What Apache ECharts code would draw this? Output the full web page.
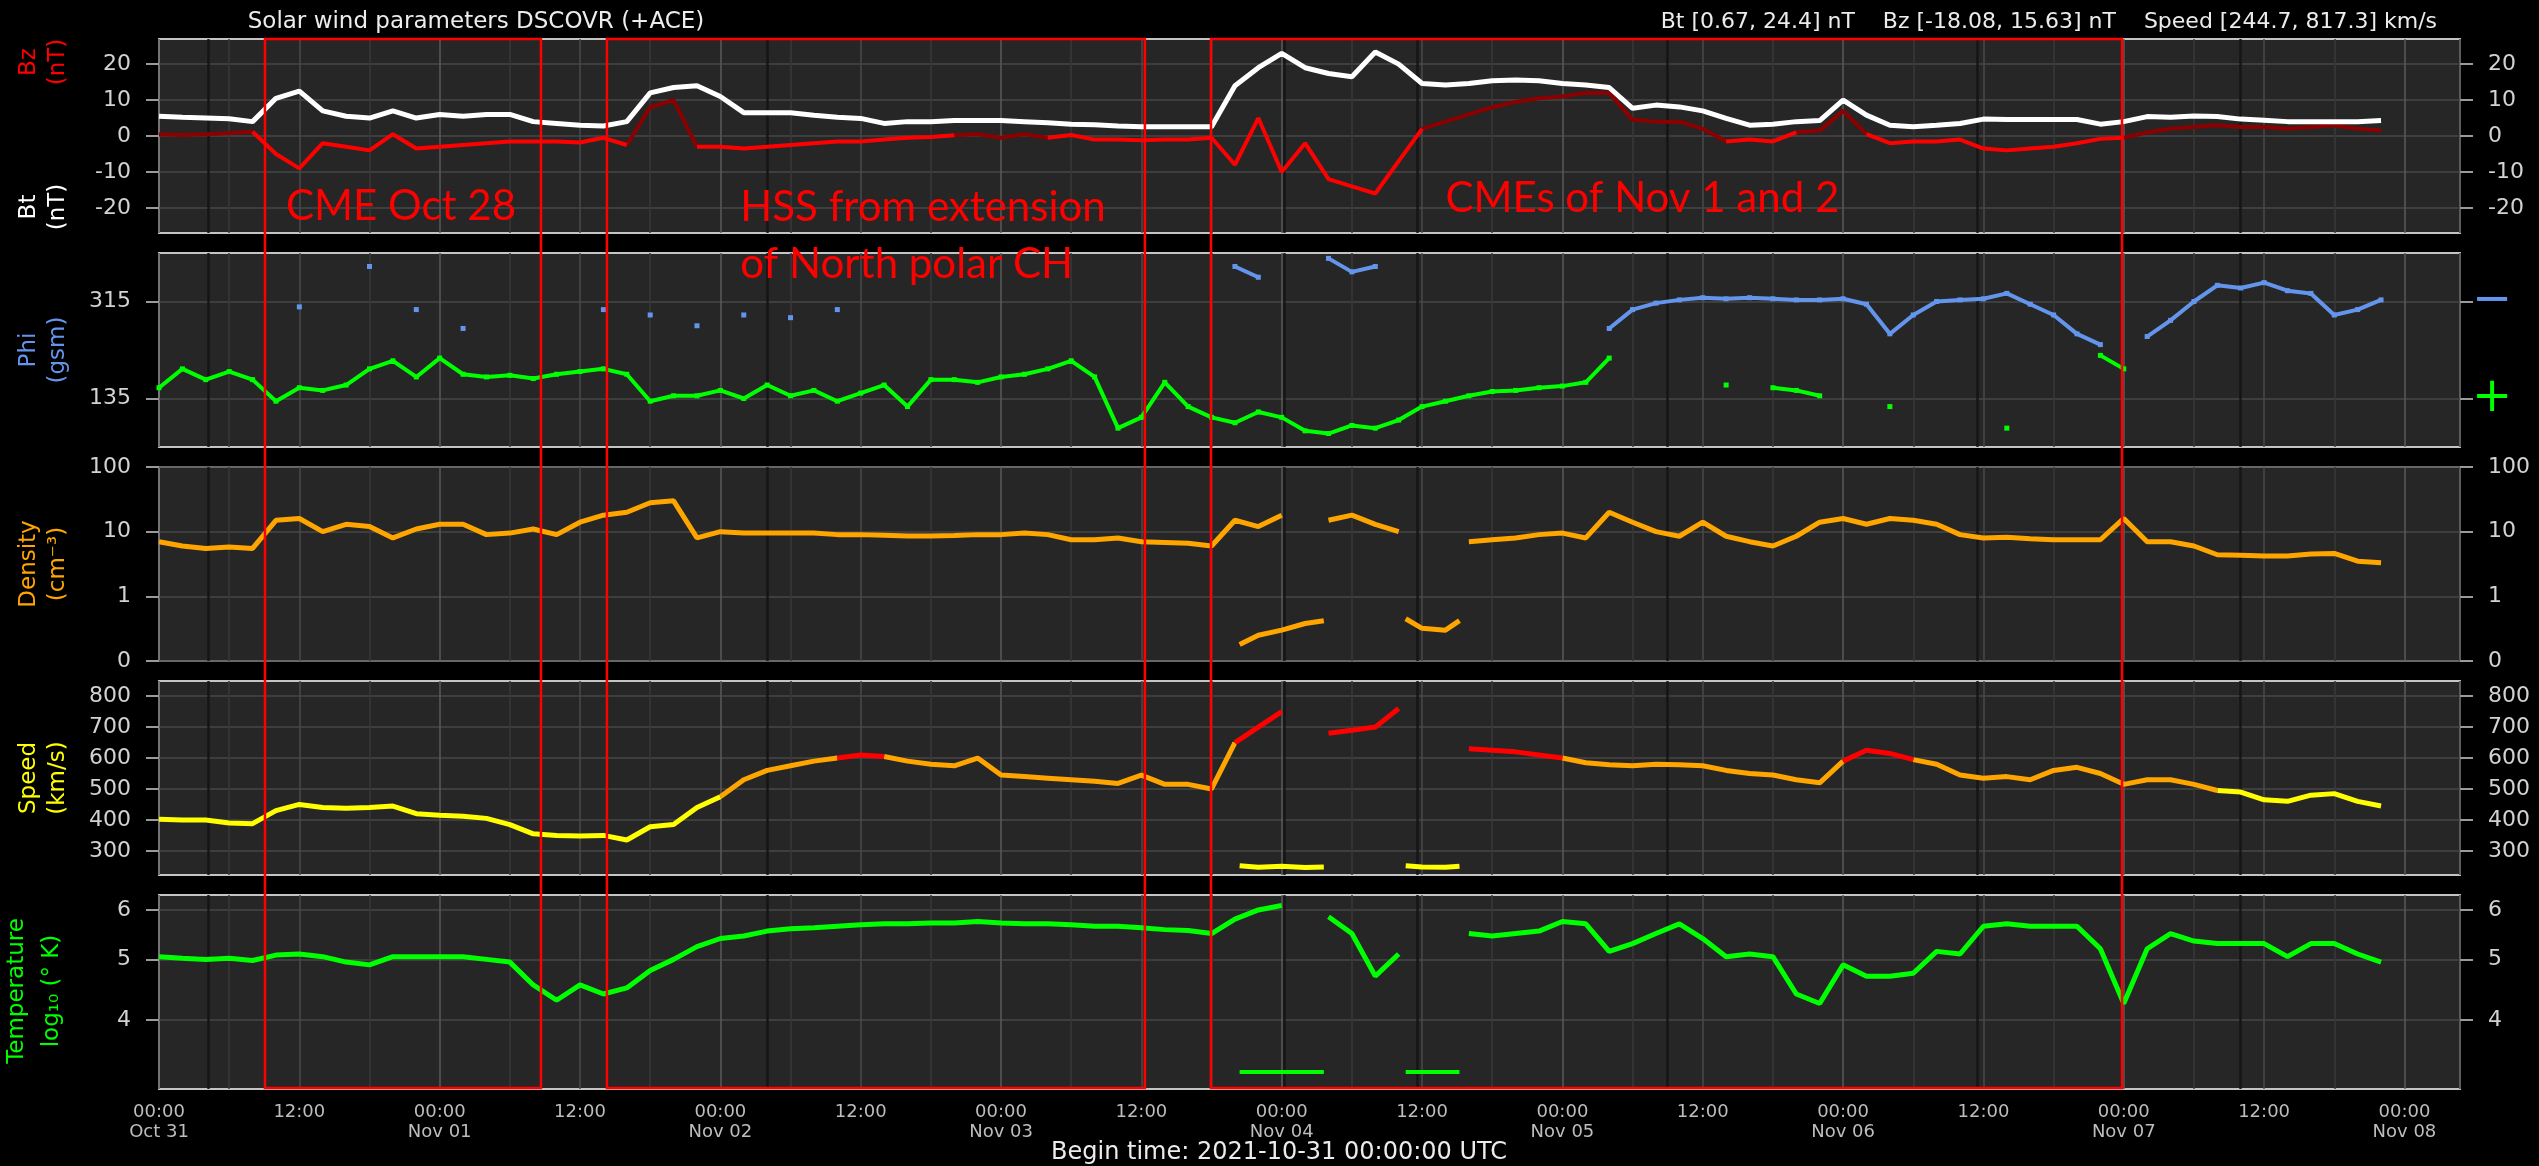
<!DOCTYPE html>
<html>
<head>
<meta charset="utf-8">
<script src="https://cdn.jsdelivr.net/npm/echarts@6/dist/echarts.min.js"></script>
<style>
html, body { margin: 0; padding: 0; background: #000; }
#solarChart { width: 2539px; height: 1166px; }
</style>
</head>
<body>
<div id="solarChart"></div>
<script>
// samples every 2 hours starting 2021-10-31 00:00 UTC, null = no data
const stepHours = 2
const dayLabels = ['Oct 31', 'Nov 01', 'Nov 02', 'Nov 03', 'Nov 04', 'Nov 05', 'Nov 06', 'Nov 07', 'Nov 08']

const bt = [5.5, 5.2, 5.0, 4.8, 4.0, 10.5, 12.5, 7, 5.5, 5, 7, 5,
  6, 5.5, 6, 6, 4, 3.5, 3, 2.8, 4, 12, 13.5, 14,
  11, 6.5, 6.5, 6.5, 5.8, 5.2, 4.9, 3.5, 4, 4, 4.3, 4.3,
  4.3, 4, 3.7, 3.3, 3.1, 2.8, 2.6, 2.6, 2.6, 2.6, 14, 19,
  23, 19, 17.4, 16.5, 23.4, 20, 14.6, 14.2, 14.6, 15.4, 15.6, 15.4,
  14.6, 14.2, 13.5, 7.7, 8.6, 8.1, 7, 4.9, 3, 3.3, 4, 4.3,
  10, 5.8, 3, 2.6, 3, 3.5, 4.7, 4.6, 4.6, 4.6, 4.6, 3.3,
  4, 5.4, 5.2, 5.6, 5.4, 4.7, 4.4, 4, 4, 4, 4, 4.3]

const bz = [0.5, 0.3, 0.5, 0.8, 1.2, -5, -9, -2, -3, -4, 0.5, -3.5,
  -3, -2.5, -2, -1.5, -1.5, -1.5, -1.8, -0.5, -2.5, 8, 10, -3,
  -3, -3.5, -3, -2.5, -2, -1.5, -1.5, -1, -0.5, -0.3, 0.2, 0.5,
  -0.5, 0.5, -0.5, 0.3, -1, -1, -1.2, -1, -1, -0.5, -8, 5,
  -10, -2, -12, -14, -16, -7, 2, 4, 6, 8, 9.5, 10.5,
  11, 12, 12, 4.5, 4, 4, 2, -1.5, -1, -1.5, 1, 1.5,
  7, 0.5, -2, -1.5, -1.5, -1, -3.5, -4, -3.5, -3, -2, -0.8,
  -0.5, 1, 2, 2.5, 3, 2.5, 2.5, 2, 2.5, 3, 2, 1.5]

// Phi toward the sun (+, green) and away (-, blue)
const phiPlus = [155, 190, 170, 185, 170, 130, 155, 150, 160, 190, 205, 175,
  210, 180, 175, 178, 172, 180, 185, 190, 180, 130, 140, 140,
  150, 135, 160, 140, 150, 130, 145, 160, 120, 170, 170, 165,
  175, 180, 190, 205, 175, 80, 100, 165, 120, 100, 90, 110,
  100, 75, 70, 85, 80, 95, 120, 130, 140, 148, 150, 155,
  158, 165, 210, null, null, null, null, 160, null, 155, 150, 140,
  null, null, 120, null, null, null, null, 80, null, null, null, 215,
  190, null, null, null, null, null, null, null, null, null, null, null]
const phiMinus = [null, null, null, null, null, null, 305, null, null, 380, null, 300,
  null, 265, null, null, null, null, null, 300, null, 290, null, 270,
  null, 290, null, 285, null, 300, null, null, null, null, null, null,
  null, null, null, null, null, null, null, null, null, null, 380, 360,
  null, null, 395, 370, 380, null, null, null, null, null, null, null,
  null, null, 265, 300, 312, 318, 322, 320, 322, 320, 318, 318,
  320, 310, 255, 290, 315, 318, 320, 330, 310, 290, 255, 235,
  null, 250, 280, 315, 345, 340, 350, 335, 330, 290, 300, 318]

const density = [7, 6, 5.5, 5.8, 5.5, 15, 16, 10, 13, 12, 8, 11,
  13, 13, 9, 9.5, 11, 9, 14, 18, 20, 28, 30, 8,
  10, 9.5, 9.5, 9.5, 9.5, 9, 9, 8.8, 8.6, 8.6, 8.7, 9,
  9, 9.5, 9, 7.5, 7.5, 8, 7, 6.8, 6.6, 6, 15, 12,
  18, null, 15, 18, 13, 10, null, null, 7, 7.5, 8, 9,
  9.5, 8, 20, 14, 10, 8.5, 14, 8.5, 7, 6, 8.5, 14,
  16, 13, 16, 15, 13, 9, 8, 8.2, 7.8, 7.5, 7.5, 7.5,
  16, 7, 7, 6, 4.4, 4.3, 4.2, 4.2, 4.5, 4.6, 3.5, 3.3]

const speed = [402, 400, 400, 390, 388, 430, 450, 440, 438, 440, 445, 420,
  415, 412, 405, 385, 355, 350, 348, 350, 335, 378, 385, 440,
  475, 530, 560, 575, 590, 600, 610, 605, 590, 580, 575, 600,
  545, 540, 535, 530, 525, 518, 545, 515, 515, 500, 650, 700,
  750, null, 680, 690, 700, 760, null, null, 630, 625, 620, 610,
  600, 585, 578, 575, 580, 578, 575, 560, 550, 545, 530, 520,
  590, 625, 615, 595, 580, 545, 535, 540, 530, 560, 570, 550,
  515, 530, 530, 515, 495, 490, 465, 460, 480, 485, 460, 445]

// log10 of temperature in K
const temperature = [5.05, 5.02, 5.0, 5.02, 4.98, 5.08, 5.1, 5.05, 4.95, 4.9, 5.05, 5.05,
  5.05, 5.05, 5.0, 4.95, 4.55, 4.3, 4.55, 4.4, 4.5, 4.8, 5.0, 5.24,
  5.4, 5.45, 5.55, 5.6, 5.62, 5.65, 5.68, 5.7, 5.7, 5.72, 5.72, 5.75,
  5.72, 5.7, 5.7, 5.68, 5.65, 5.65, 5.62, 5.58, 5.56, 5.5, 5.8, 6.0,
  6.1, null, 5.85, 5.5, 4.7, 5.1, null, null, 5.5, 5.45, 5.5, 5.55,
  5.75, 5.7, 5.15, 5.3, 5.5, 5.7, 5.4, 5.05, 5.1, 5.05, 4.4, 4.25,
  4.9, 4.7, 4.7, 4.75, 5.15, 5.1, 5.65, 5.7, 5.65, 5.65, 5.65, 5.2,
  4.25, 5.2, 5.5, 5.35, 5.3, 5.3, 5.3, 5.05, 5.3, 5.3, 5.1, 4.95]

// second (low) data branch inside the Nov 4 CME, hours from begin time
const lowHours = [92.4, 94, 96, 98, 99.6, null, 106.6, 108, 110, 111.2]
const densityLow = [0.18, 0.25, 0.3, 0.38, 0.42, null, 0.45, 0.32, 0.3, 0.42]
const speedLow = [252, 247, 250, 246, 248, null, 252, 248, 247, 250]
const temperatureLow = [3.3, 3.3, 3.3, 3.3, 3.3, null, 3.3, 3.3, 3.3, 3.3]

// dark data-gap markers, hours from begin time
const gapHours = [4.2, 52, 96.2, 107.6, 129, 155.5, 178]

const bzTicks = [-20, -10, 0, 10, 20]
const phiTicks = [135, 315]
const speedTicks = [300, 400, 500, 600, 700, 800]
const tempTicks = [4, 5, 6]

// hand drawn event boxes, in hours from begin time
const eventSpans = [[9.06, 32.66], [38.3, 84.3], [89.95, 167.85]]
const eventNotes = [
  { text: 'CME Oct 28', hour: 10.86, y: 206 },
  { text: 'HSS from extension', hour: 49.7, y: 207 },
  { text: 'of North polar CH', hour: 49.7, y: 264 },
  { text: 'CMEs of Nov 1 and 2', hour: 110.0, y: 198 }
]

const toPairs = arr => arr.map((v, i) => [i * stepHours, v === null ? '-' : v])
const lowPairs = vals => lowHours.map((h, i) => h === null ? [lowHours[i - 1], '-'] : [h, vals[i]])

// cut a series into runs by colour class of each segment, gaps ('-') between runs
function splitRuns(pairs, classOf, n) {
  const runs = Array.from({ length: n }, () => [])
  for (let i = 0; i + 1 < pairs.length; i++) {
    const a = pairs[i], b = pairs[i + 1]
    if (a[1] === '-' || b[1] === '-') continue
    const out = runs[classOf((a[1] + b[1]) / 2)]
    const last = out[out.length - 1]
    if (!last || last[0] !== a[0]) {
      if (last) out.push([a[0], '-'])
      out.push(a)
    }
    out.push(b)
  }
  return runs
}

const bzRuns = splitRuns(toPairs(bz), v => v < 0 ? 0 : 1, 2)
const speedRuns = splitRuns(toPairs(speed), v => v < 500 ? 0 : (v < 600 ? 1 : 2), 3)

const chart = echarts.init(document.getElementById('solarChart'))

const gridTops = [39, 253, 467, 681, 895]
const grids = gridTops.map(t => ({
  left: 159, right: 79, top: t, height: 194,
  show: true, backgroundColor: '#262626', borderColor: '#c4c4c4', borderWidth: 2
}))

const xAxes = gridTops.map((t, k) => ({
  type: 'value', gridIndex: k, min: 0, max: 196.75, interval: 6,
  axisLine: { show: false },
  axisTick: { show: false },
  splitLine: { show: true, lineStyle: { color: ['#5a5a5a', '#383838', '#4a4a4a', '#383838'], width: 1.5 } },
  axisLabel: {
    show: k === 4, color: '#bdbdbd', fontSize: 18, fontFamily: 'DejaVu Sans',
    margin: 13, lineHeight: 20,
    formatter: v => {
      if (v % 12 !== 0) return ''
      return v % 24 === 0 ? '00:00\n' + dayLabels[v / 24] : '12:00'
    }
  }
}))

function yPair(k, extra) {
  return ['left', 'right'].map(pos => {
    const ax = {
      gridIndex: k, position: pos, type: 'value',
      axisLine: { show: false },
      axisTick: { show: true, length: 13, lineStyle: { color: '#9a9a9a', width: 2 } },
      axisLabel: { color: '#d2d2d2', fontSize: 22, fontFamily: 'DejaVu Sans', margin: 28 },
      splitLine: { show: pos === 'left', lineStyle: { color: '#474747', width: 1.5 } }
    }
    const e = extra(pos)
    ax.axisTick = Object.assign(ax.axisTick, e.axisTick || {})
    ax.axisLabel = Object.assign(ax.axisLabel, e.axisLabel || {})
    delete e.axisTick
    delete e.axisLabel
    return Object.assign(ax, e)
  })
}

const yAxes = [].concat(
  yPair(0, () => ({ min: -27, max: 27, axisTick: { customValues: bzTicks }, axisLabel: { customValues: bzTicks } })),
  yPair(1, pos => ({
    min: 45, max: 405,
    axisTick: { customValues: phiTicks },
    axisLabel: pos === 'left' ? { customValues: phiTicks } : {
      customValues: phiTicks, margin: 12,
      formatter: v => v === 315 ? '{m|\u2212}' : '{p|+}',
      rich: {
        m: { color: '#6495ed', fontSize: 48, fontFamily: 'DejaVu Sans' },
        p: { color: '#00ff00', fontSize: 48, fontFamily: 'DejaVu Sans' }
      }
    }
  })),
  yPair(2, () => ({
    type: 'log', logBase: 10, min: 0.1, max: 100,
    axisLabel: { formatter: v => v < 0.5 ? '0' : String(Math.round(v)) }
  })),
  yPair(3, () => ({ min: 222, max: 849, axisTick: { customValues: speedTicks }, axisLabel: { customValues: speedTicks } })),
  yPair(4, () => ({ type: 'log', min: 3.1, max: 6.34, axisTick: { customValues: tempTicks }, axisLabel: { customValues: tempTicks } }))
)

const gapMarks = {
  silent: true, symbol: 'none', z: 1, animation: false,
  label: { show: false },
  lineStyle: { color: '#141414', width: 2.5, type: 'solid', opacity: 0.9 },
  data: gapHours.map(h => ({ xAxis: h }))
}

const line = (name, xi, yi, data, color, width, extra) => Object.assign({
  type: 'line', name: name, xAxisIndex: xi, yAxisIndex: yi, data: data,
  symbol: 'none', showSymbol: false, connectNulls: false,
  lineStyle: { width: width, color: color }
}, extra || {})

const dots = color => ({ symbol: 'rect', symbolSize: 5, showSymbol: true, itemStyle: { color: color, borderWidth: 0 } })

const option = {
  backgroundColor: '#000',
  animation: false,
  grid: grids,
  xAxis: xAxes,
  yAxis: yAxes,
  series: [
    line('Bz+', 0, 0, bzRuns[1], '#8b0000', 4, { markLine: gapMarks }),
    line('Bz-', 0, 0, bzRuns[0], '#ff0000', 4),
    line('Bt', 0, 0, toPairs(bt), '#ffffff', 5),
    line('Phi+', 1, 2, toPairs(phiPlus), '#00ff00', 4, Object.assign({ markLine: gapMarks }, dots('#00ff00'))),
    line('Phi-', 1, 2, toPairs(phiMinus), '#6495ed', 4, dots('#6495ed')),
    line('Density', 2, 4, toPairs(density), '#ffa500', 5, { markLine: gapMarks }),
    line('Density low', 2, 4, lowPairs(densityLow), '#ffa500', 5),
    line('Speed low', 3, 6, speedRuns[0], '#ffff00', 5, { markLine: gapMarks }),
    line('Speed mid', 3, 6, speedRuns[1], '#ffa500', 5),
    line('Speed high', 3, 6, speedRuns[2], '#ff0000', 5),
    line('Speed low branch', 3, 6, lowPairs(speedLow), '#ffff00', 5),
    line('Temperature', 4, 8, toPairs(temperature), '#00ff00', 5, { markLine: gapMarks }),
    line('Temperature low', 4, 8, lowPairs(temperatureLow), '#00ff00', 4)
  ]
}
chart.setOption(option)

// texts and annotation boxes, placed after the axes exist
const font = 'DejaVu Sans'
const vText = (text, x, y, color, lh) => ({
  type: 'text', x: x, y: y, rotation: Math.PI / 2, z: 50,
  style: { text: text, fill: color, fontSize: 23, fontFamily: font, align: 'center', verticalAlign: 'middle', lineHeight: lh }
})
const hText = (text, x, y, align, size) => ({
  type: 'text', x: x, y: y, z: 50,
  style: { text: text, fill: '#ececec', fontSize: size, fontFamily: font, align: align, verticalAlign: 'middle' }
})

const graphics = [
  hText('Solar wind parameters DSCOVR (+ACE)', 476, 22, 'center', 23),
  hText('Bt [0.67, 24.4] nT    Bz [-18.08, 15.63] nT    Speed [244.7, 817.3] km/s', 2437, 22, 'right', 22),
  hText('Begin time: 2021-10-31 00:00:00 UTC', 1279, 1153, 'center', 24),
  vText('Bz\n(nT)', 44, 62, '#ff0000', 29),
  vText('Bt\n(nT)', 44, 207, '#ffffff', 29),
  vText('Phi\n(gsm)', 44, 350, '#6495ed', 29),
  vText('Density\n(cm\u207B\u00B3)', 44, 564, '#ffa500', 29),
  vText('Speed\n(km/s)', 44, 778, '#ffff00', 29),
  vText('Temperature\nlog\u2081\u2080 (\u00B0 K)', 35, 991, '#00ff00', 35)
]

const yTop = gridTops[0]
const yBottom = gridTops[4] + 193
eventSpans.forEach(s => {
  const x1 = chart.convertToPixel({ xAxisIndex: 0 }, s[0])
  const x2 = chart.convertToPixel({ xAxisIndex: 0 }, s[1])
  graphics.push({
    type: 'rect', z: 60,
    shape: { x: x1, y: yTop, width: x2 - x1, height: yBottom - yTop },
    style: { fill: 'none', stroke: '#ff0000', lineWidth: 2.5 }
  })
})
eventNotes.forEach(n => {
  graphics.push({
    type: 'text', z: 60,
    x: chart.convertToPixel({ xAxisIndex: 0 }, n.hour), y: n.y,
    style: { text: n.text, fill: '#ff0000', fontSize: 42, fontFamily: 'Lato', align: 'left', verticalAlign: 'middle' }
  })
})

chart.setOption({ graphic: graphics })
</script>
</body>
</html>
